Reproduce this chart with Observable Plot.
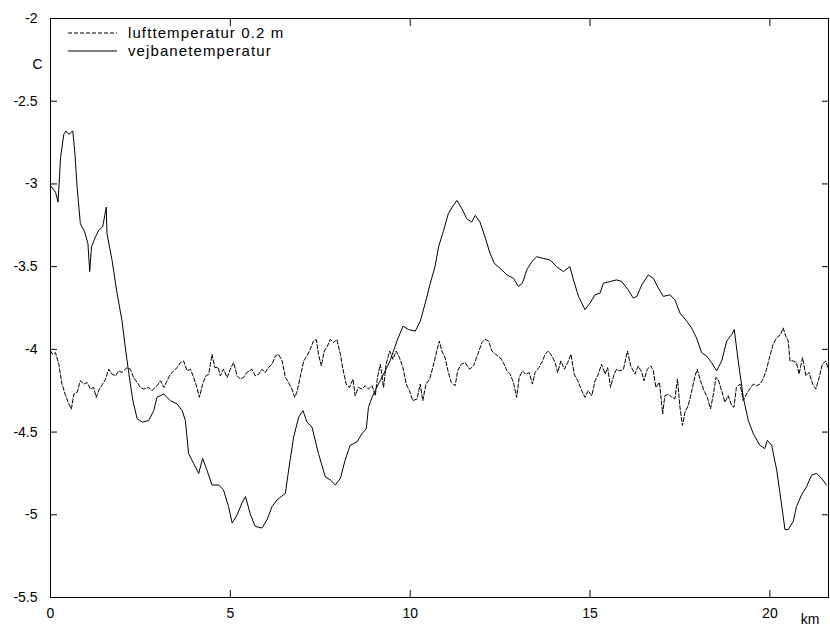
<!DOCTYPE html>
<html>
<head>
<meta charset="utf-8">
<script src="https://cdn.jsdelivr.net/npm/d3@7"></script>
<script src="https://cdn.jsdelivr.net/npm/@observablehq/plot@0.6"></script>
<style>
  html, body { margin: 0; padding: 0; background: #fff; overflow: hidden; }
  #chart svg { display: block; }
</style>
</head>
<body>
<div id="chart"></div>
<script>
// ---- Data ----
const seriesNames = ["lufttemperatur 0.2 m", "vejbanetemperatur"];
const xUnit = "km";
const yUnit = "C";
const xTickValues = [0, 5, 10, 15, 20];
const xInnerTicks = [5, 10, 15, 20];
const yTickValues = [-5.5, -5, -4.5, -4, -3.5, -3, -2.5, -2];
const xDomain = [0, 21.63];
const yDomain = [-5.5, -2];

// vejbanetemperatur (solid)
const roadKm = [
  0, 0.14, 0.21, 0.28, 0.37, 0.43, 0.51, 0.62, 0.68, 0.74,
  0.83, 0.95, 1.04, 1.09, 1.14, 1.25, 1.34, 1.45, 1.55, 1.57,
  1.71, 1.85, 1.99, 2.08, 2.18, 2.29, 2.41, 2.55, 2.73, 2.87,
  2.96, 3.15, 3.33, 3.52, 3.66, 3.75, 3.84, 3.98, 4.12, 4.23,
  4.35, 4.49, 4.68, 4.81, 4.95, 5.05, 5.19, 5.32, 5.42, 5.56,
  5.69, 5.88, 6.02, 6.16, 6.30, 6.53, 6.62, 6.76, 6.90, 7.02,
  7.13, 7.27, 7.45, 7.64, 7.78, 7.92, 8.06, 8.19, 8.33, 8.52,
  8.66, 8.78, 8.84, 8.94, 9.07, 9.26, 9.44, 9.63, 9.80, 9.95,
  10.14, 10.28, 10.42, 10.56, 10.69, 10.79, 10.93, 11.06, 11.20, 11.30,
  11.44, 11.57, 11.71, 11.81, 11.94, 12.08, 12.22, 12.34, 12.50, 12.69,
  12.87, 13.01, 13.12, 13.24, 13.38, 13.52, 13.70, 13.89, 14.07, 14.26,
  14.44, 14.54, 14.68, 14.86, 15.00, 15.14, 15.28, 15.37, 15.56, 15.74,
  15.88, 16.06, 16.20, 16.30, 16.44, 16.62, 16.76, 16.90, 17.04, 17.22,
  17.36, 17.50, 17.69, 17.82, 17.96, 18.10, 18.24, 18.38, 18.52, 18.66,
  18.80, 18.94, 19.01, 19.12, 19.26, 19.40, 19.54, 19.72, 19.86, 19.93,
  20.05, 20.19, 20.32, 20.42, 20.51, 20.65, 20.74, 20.88, 21.02, 21.16,
  21.30, 21.44, 21.57
];
const roadTemp = [
  -3.01, -3.05, -3.11, -2.84, -2.70, -2.68, -2.70, -2.68, -2.82, -3.02,
  -3.24, -3.29, -3.36, -3.53, -3.38, -3.32, -3.28, -3.26, -3.14, -3.30,
  -3.46, -3.66, -3.83, -3.99, -4.15, -4.31, -4.42, -4.44, -4.43, -4.37,
  -4.29, -4.27, -4.31, -4.33, -4.37, -4.43, -4.63, -4.69, -4.75, -4.66,
  -4.73, -4.82, -4.82, -4.85, -4.95, -5.05, -5.00, -4.93, -4.89, -5.00,
  -5.07, -5.08, -5.03, -4.95, -4.91, -4.87, -4.73, -4.53, -4.41, -4.37,
  -4.44, -4.47, -4.63, -4.77, -4.79, -4.82, -4.78, -4.67, -4.58, -4.56,
  -4.51, -4.48, -4.35, -4.29, -4.23, -4.15, -4.07, -3.95, -3.86, -3.88,
  -3.89, -3.83, -3.72, -3.60, -3.50, -3.38, -3.28, -3.18, -3.13, -3.10,
  -3.15, -3.21, -3.23, -3.19, -3.23, -3.32, -3.42, -3.48, -3.51, -3.55,
  -3.57, -3.62, -3.60, -3.52, -3.47, -3.44, -3.45, -3.46, -3.50, -3.53,
  -3.50, -3.58, -3.68, -3.76, -3.72, -3.67, -3.66, -3.60, -3.59, -3.58,
  -3.59, -3.64, -3.69, -3.68, -3.61, -3.55, -3.57, -3.63, -3.68, -3.67,
  -3.70, -3.78, -3.83, -3.87, -3.93, -4.02, -4.04, -4.08, -4.13, -4.07,
  -3.95, -3.91, -3.88, -4.07, -4.29, -4.43, -4.51, -4.58, -4.60, -4.55,
  -4.58, -4.73, -4.93, -5.09, -5.09, -5.04, -4.95, -4.88, -4.83, -4.76,
  -4.75, -4.78, -4.82
];

// lufttemperatur 0.2 m (dashed)
const airKm = [
  0, 0.06, 0.14, 0.23, 0.32, 0.42, 0.51, 0.58, 0.65, 0.74,
  0.83, 0.93, 1.02, 1.11, 1.20, 1.27, 1.36, 1.45, 1.53, 1.62,
  1.71, 1.81, 1.90, 1.99, 2.13, 2.22, 2.31, 2.41, 2.50, 2.59,
  2.73, 2.82, 2.96, 3.06, 3.15, 3.24, 3.33, 3.43, 3.52, 3.61,
  3.70, 3.80, 3.89, 3.98, 4.07, 4.14, 4.23, 4.32, 4.40, 4.49,
  4.57, 4.66, 4.72, 4.81, 4.91, 5.00, 5.09, 5.19, 5.28, 5.37,
  5.46, 5.60, 5.69, 5.79, 5.88, 5.97, 6.06, 6.16, 6.25, 6.34,
  6.44, 6.53, 6.62, 6.71, 6.79, 6.85, 6.94, 7.04, 7.13, 7.22,
  7.31, 7.39, 7.45, 7.53, 7.61, 7.70, 7.78, 7.87, 7.96, 8.06,
  8.13, 8.22, 8.31, 8.41, 8.47, 8.56, 8.66, 8.75, 8.84, 8.94,
  9.03, 9.09, 9.17, 9.26, 9.33, 9.43, 9.52, 9.61, 9.70, 9.80,
  9.89, 9.98, 10.07, 10.19, 10.28, 10.35, 10.44, 10.54, 10.63, 10.74,
  10.81, 10.88, 10.97, 11.05, 11.14, 11.25, 11.32, 11.42, 11.53, 11.65,
  11.76, 11.88, 11.99, 12.08, 12.18, 12.27, 12.38, 12.50, 12.59, 12.69,
  12.78, 12.87, 12.96, 13.03, 13.12, 13.21, 13.31, 13.40, 13.47, 13.58,
  13.68, 13.75, 13.84, 13.94, 14.03, 14.10, 14.19, 14.29, 14.38, 14.47,
  14.56, 14.66, 14.77, 14.86, 14.95, 15.05, 15.14, 15.23, 15.32, 15.42,
  15.49, 15.57, 15.67, 15.74, 15.83, 15.93, 16.04, 16.13, 16.25, 16.34,
  16.44, 16.50, 16.59, 16.69, 16.76, 16.83, 16.93, 17.02, 17.08, 17.18,
  17.27, 17.36, 17.43, 17.50, 17.57, 17.64, 17.73, 17.82, 17.92, 17.98,
  18.07, 18.17, 18.26, 18.35, 18.43, 18.50, 18.56, 18.66, 18.75, 18.84,
  18.94, 19.00, 19.07, 19.17, 19.26, 19.35, 19.44, 19.54, 19.63, 19.72,
  19.81, 19.91, 20.00, 20.09, 20.19, 20.30, 20.37, 20.44, 20.51, 20.56,
  20.65, 20.74, 20.81, 20.91, 21.00, 21.09, 21.19, 21.28, 21.37, 21.46,
  21.56, 21.62
];
const airTemp = [
  -4.01, -4.03, -4.02, -4.09, -4.21, -4.28, -4.33, -4.36, -4.27, -4.26,
  -4.19, -4.21, -4.20, -4.24, -4.23, -4.29, -4.24, -4.21, -4.18, -4.12,
  -4.15, -4.16, -4.13, -4.14, -4.11, -4.12, -4.17, -4.20, -4.23, -4.24,
  -4.23, -4.25, -4.22, -4.19, -4.23, -4.19, -4.15, -4.13, -4.11, -4.08,
  -4.07, -4.13, -4.12, -4.17, -4.23, -4.29, -4.21, -4.16, -4.15, -4.03,
  -4.11, -4.11, -4.16, -4.12, -4.17, -4.12, -4.08, -4.16, -4.18, -4.17,
  -4.14, -4.12, -4.16, -4.15, -4.12, -4.14, -4.11, -4.09, -4.04, -4.03,
  -4.07, -4.17, -4.20, -4.24, -4.29, -4.26, -4.17, -4.07, -4.04, -4.00,
  -3.95, -3.94, -4.03, -4.10, -4.01, -3.98, -3.94, -3.96, -3.94, -4.03,
  -4.12, -4.21, -4.23, -4.18, -4.28, -4.23, -4.24, -4.22, -4.24, -4.22,
  -4.28, -4.17, -4.09, -4.23, -4.09, -4.01, -4.06, -4.01, -4.05, -4.11,
  -4.21, -4.25, -4.31, -4.30, -4.21, -4.31, -4.21, -4.18, -4.11, -4.01,
  -3.95, -4.01, -4.05, -4.13, -4.20, -4.22, -4.13, -4.09, -4.08, -4.12,
  -4.10, -4.03, -3.96, -3.94, -3.95, -4.01, -4.03, -4.05, -4.08, -4.13,
  -4.15, -4.20, -4.29, -4.17, -4.13, -4.15, -4.14, -4.21, -4.14, -4.11,
  -4.07, -4.03, -4.01, -4.04, -4.08, -4.14, -4.07, -4.12, -4.08, -4.03,
  -4.15, -4.19, -4.25, -4.29, -4.25, -4.28, -4.19, -4.15, -4.09, -4.15,
  -4.11, -4.23, -4.15, -4.12, -4.13, -4.12, -4.01, -4.10, -4.15, -4.10,
  -4.14, -4.19, -4.12, -4.10, -4.13, -4.23, -4.20, -4.39, -4.28, -4.27,
  -4.29, -4.30, -4.18, -4.35, -4.46, -4.38, -4.34, -4.26, -4.16, -4.12,
  -4.19, -4.25, -4.29, -4.36, -4.27, -4.17, -4.18, -4.25, -4.32, -4.28,
  -4.34, -4.35, -4.23, -4.21, -4.31, -4.27, -4.24, -4.21, -4.22, -4.21,
  -4.18, -4.12, -4.04, -3.97, -3.93, -3.91, -3.87, -3.92, -3.95, -4.07,
  -4.07, -4.08, -4.15, -4.05, -4.16, -4.14, -4.21, -4.24, -4.17, -4.09,
  -4.07, -4.12
];

// ---- Build tables ----
const air = airKm.map((km, i) => ({km, t: airTemp[i]}));
const road = roadKm.map((km, i) => ({km, t: roadTemp[i]}));

const fontFamily = "'Liberation Sans', Arial, Helvetica, sans-serif";
const tickLen = 7;
const noText = () => "";

// Legend drawn inside the plot frame
function legendMark(index, scales, values, dimensions) {
  const g = d3.create("svg:g").attr("font-family", fontFamily);
  const x0 = dimensions.marginLeft + 18;
  const styles = ["4,2", null];
  seriesNames.forEach((name, i) => {
    const y = dimensions.marginTop + 15 + i * 18;
    const line = g.append("line")
      .attr("x1", x0).attr("x2", x0 + 49)
      .attr("y1", y).attr("y2", y)
      .attr("stroke", "black").attr("stroke-width", 1);
    if (styles[i]) line.attr("stroke-dasharray", styles[i]);
    g.append("text")
      .attr("x", x0 + 60).attr("y", y)
      .attr("dy", "0.35em")
      .attr("text-anchor", "start")
      .attr("font-size", 15)
      .attr("letter-spacing", "1.1px")
      .attr("fill", "black")
      .text(name);
  });
  return g.node();
}

// inward tick marks: outward axis ticks shifted inside the frame
const tickStyle = {tickFormat: noText, label: null, stroke: "black", strokeWidth: 1};

const chart = Plot.plot({
  width: 830,
  height: 625,
  marginLeft: 50,
  marginRight: 2,
  marginTop: 18,
  marginBottom: 28,
  style: {fontFamily, fontSize: "14px", color: "black", background: "white"},
  x: {domain: xDomain, label: null},
  y: {domain: yDomain, label: null},
  marks: [
    Plot.axisX(xTickValues, {anchor: "bottom", tickSize: 0, tickPadding: 11, label: null}),
    Plot.axisY(yTickValues, {anchor: "left", tickSize: 0, tickPadding: 13, label: null, tickFormat: d => String(d)}),
    Plot.axisY(yTickValues, {anchor: "left", tickSize: tickLen, dx: tickLen, ...tickStyle}),
    Plot.axisY(yTickValues, {anchor: "right", tickSize: tickLen, dx: -tickLen, ...tickStyle}),
    Plot.axisX(xInnerTicks, {anchor: "bottom", tickSize: tickLen, dy: -tickLen, ...tickStyle}),
    Plot.axisX(xInnerTicks, {anchor: "top", tickSize: tickLen, dy: tickLen, ...tickStyle}),
    Plot.frame({stroke: "black", strokeWidth: 1}),
    Plot.line(air, {x: "km", y: "t", stroke: "black", strokeWidth: 1, strokeDasharray: "4,2"}),
    Plot.line(road, {x: "km", y: "t", stroke: "black", strokeWidth: 1}),
    Plot.text([yUnit], {frameAnchor: "top-left", dx: -18, dy: 41, fill: "black", fontSize: 14}),
    Plot.text([xUnit], {frameAnchor: "bottom-right", dx: -9, dy: 26, fill: "black", fontSize: 14}),
    legendMark
  ]
});

document.getElementById("chart").appendChild(chart);
</script>
</body>
</html>
